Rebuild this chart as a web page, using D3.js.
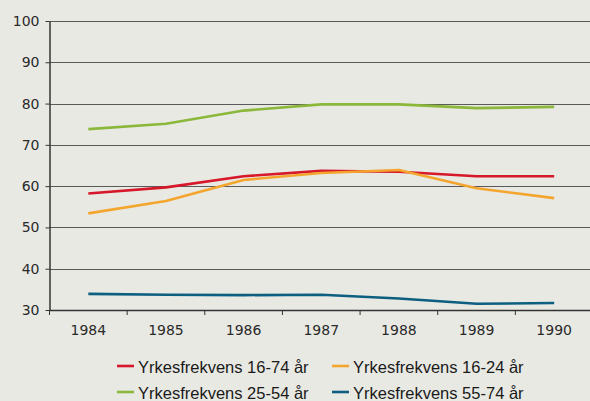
<!DOCTYPE html>
<html>
<head>
<meta charset="utf-8">
<script src="https://cdn.jsdelivr.net/npm/d3@7"></script>
<style>
  body { margin: 0; background: #e9e9e4; }
  svg { display: block; }
</style>
</head>
<body>
<svg id="chart" width="590" height="401"></svg>
<script>
const years = ['1984', '1985', '1986', '1987', '1988', '1989', '1990'];
const yTicks = [30, 40, 50, 60, 70, 80, 90, 100];

const all1674 = [58.2, 59.7, 62.4, 63.7, 63.5, 62.4, 62.4];
const young1624 = [53.4, 56.4, 61.5, 63.2, 63.9, 59.5, 57.1];
const mid2554 = [73.8, 75.1, 78.3, 79.8, 79.8, 78.9, 79.2];
const old5574 = [33.9, 33.7, 33.6, 33.7, 32.8, 31.5, 31.7];

const seriesNames = [
  'Yrkesfrekvens 16-74 år',
  'Yrkesfrekvens 16-24 år',
  'Yrkesfrekvens 25-54 år',
  'Yrkesfrekvens 55-74 år',
];
const colors = ['#d6182a', '#f4a52e', '#8bb83a', '#0d5f80'];
const series = [all1674, young1624, mid2554, old5574];

const svg = d3.select('#chart');
const plotLeft = 49.5, plotRight = 593, plotTop = 21, plotBottom = 310;

const x = d3.scaleBand().domain(years).range([plotLeft, plotRight]);
const y = d3.scaleLinear().domain([30, 100]).range([plotBottom, plotTop]);

// grid lines
svg.append('g')
  .selectAll('line')
  .data(yTicks.slice(1))
  .enter().append('line')
  .attr('x1', plotLeft).attr('x2', 590)
  .attr('y1', (d) => Math.round(y(d)) + 0.5)
  .attr('y2', (d) => Math.round(y(d)) + 0.5)
  .attr('stroke', '#5a5a5a')
  .attr('stroke-width', 1.2);

// y axis
const yAxis = svg.append('g')
  .attr('transform', `translate(${plotLeft},0)`)
  .call(d3.axisLeft(y).tickValues(yTicks).tickSize(4).tickSizeOuter(0));
yAxis.select('.domain').attr('stroke', '#333').attr('stroke-width', 1.5);
yAxis.selectAll('.tick line').attr('stroke', '#333');
yAxis.selectAll('.tick text')
  .attr('x', -10)
  .attr('fill', '#2a2a2a')
  .style('font-family', 'DejaVu Sans, Verdana, sans-serif')
  .style('font-size', '14px');

// x axis
const xAxis = svg.append('g')
  .attr('transform', `translate(0,${plotBottom})`)
  .call(d3.axisBottom(x).tickSize(0).tickSizeOuter(0));
xAxis.select('.domain').remove();
xAxis.selectAll('.tick text')
  .attr('y', 15)
  .attr('fill', '#2a2a2a')
  .style('font-family', 'DejaVu Sans, Verdana, sans-serif')
  .style('font-size', '14px');

svg.append('line')
  .attr('x1', plotLeft).attr('x2', 590)
  .attr('y1', plotBottom + 0.5).attr('y2', plotBottom + 0.5)
  .attr('stroke', '#333').attr('stroke-width', 1.5);

// tick marks between categories
svg.append('g')
  .selectAll('line')
  .data(years)
  .enter().append('line')
  .attr('x1', (d) => x(d)).attr('x2', (d) => x(d))
  .attr('y1', plotBottom).attr('y2', plotBottom + 5)
  .attr('stroke', '#333');

// lines
const line = d3.line()
  .x((d, i) => x(years[i]) + x.bandwidth() / 2)
  .y((d) => y(d));

svg.append('g')
  .selectAll('path')
  .data(series)
  .enter().append('path')
  .attr('d', line)
  .attr('fill', 'none')
  .attr('stroke', (d, i) => colors[i])
  .attr('stroke-width', 2.6)
  .attr('stroke-linejoin', 'round');

// legend
const legendPos = [[117, 366], [332, 366], [117, 392], [332, 392]];
const legend = svg.append('g')
  .selectAll('g')
  .data(seriesNames)
  .enter().append('g')
  .attr('transform', (d, i) => `translate(${legendPos[i][0]},${legendPos[i][1]})`);

legend.append('line')
  .attr('x1', 0).attr('x2', 17)
  .attr('y1', 0).attr('y2', 0)
  .attr('stroke', (d, i) => colors[i])
  .attr('stroke-width', 2.6);

legend.append('text')
  .attr('x', 21)
  .attr('y', 6.5)
  .attr('fill', '#1a1a1a')
  .style('font-family', 'Liberation Sans, Arial, sans-serif')
  .style('font-size', '16.5px')
  .text((d) => d);
</script>
</body>
</html>
